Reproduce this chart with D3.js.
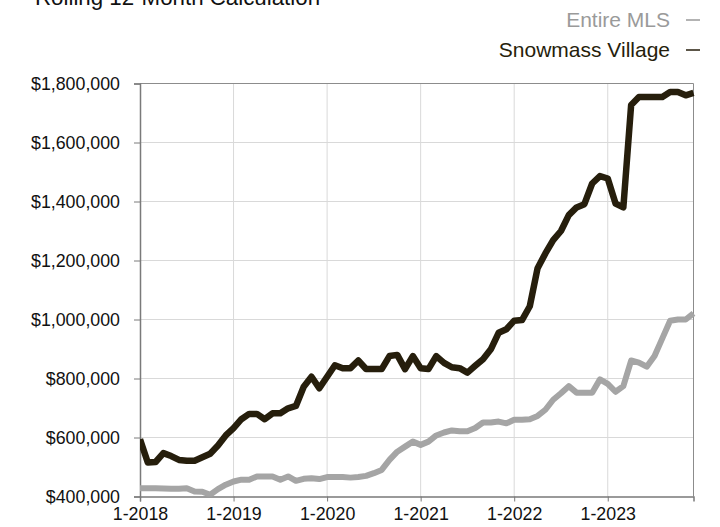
<!DOCTYPE html>
<html>
<head>
<meta charset="utf-8">
<script src="https://cdn.jsdelivr.net/npm/d3@7"></script>
<style>
  html, body { margin: 0; padding: 0; background: #fff; }
  svg { display: block; font-family: "Liberation Sans", Arial, Helvetica, sans-serif; }
</style>
</head>
<body>
<svg id="chart" width="720" height="527"></svg>
<script>
// Monthly rolling 12-month median sales price, Jan 2018 – Dec 2023
const yearTicks = ["1-2018", "1-2019", "1-2020", "1-2021", "1-2022", "1-2023"];
const yTickValues = [400000, 600000, 800000, 1000000, 1200000, 1400000, 1600000, 1800000];

const snowmassVillage = [
  594000, 515000, 517000, 547000, 537000, 524000, 521000, 521000, 533000, 545000, 573000, 607000,
  632000, 662000, 680000, 680000, 662000, 682000, 682000, 699000, 707000, 772000, 806000, 767000,
  806000, 845000, 835000, 835000, 861000, 832000, 832000, 832000, 876000, 880000, 832000, 876000,
  835000, 832000, 876000, 853000, 838000, 835000, 820000, 843000, 865000, 899000, 955000, 967000,
  996000, 998000, 1045000, 1174000, 1224000, 1269000, 1300000, 1354000, 1380000, 1391000, 1461000, 1486000,
  1478000, 1393000, 1380000, 1727000, 1754000, 1754000, 1754000, 1754000, 1771000, 1771000, 1760000, 1768000
];

const entireMLS = [
  428000, 428000, 428000, 427000, 426000, 426000, 428000, 417000, 416000, 406000, 425000, 440000,
  451000, 457000, 457000, 468000, 468000, 468000, 457000, 468000, 453000, 460000, 462000, 459000,
  466000, 466000, 466000, 464000, 466000, 470000, 479000, 490000, 524000, 552000, 569000, 586000,
  575000, 586000, 607000, 617000, 624000, 621000, 621000, 632000, 651000, 651000, 654000, 648000,
  660000, 660000, 662000, 673000, 694000, 728000, 750000, 774000, 752000, 752000, 752000, 797000,
  782000, 755000, 774000, 861000, 854000, 840000, 876000, 936000, 996000, 1000000, 1000000, 1021000
];

const seriesNames = ["Entire MLS", "Snowmass Village"];
const seriesColors = ["#a5a5a5", "#261e0c"];

const svg = d3.select("#chart");
const margin = { left: 140, top: 83.5, right: 26.5, bottom: 30.5 };
const W = 720, H = 527;
const innerW = W - margin.left - margin.right;
const innerH = H - margin.top - margin.bottom;

const x = d3.scaleLinear().domain([0, snowmassVillage.length - 1]).range([margin.left, margin.left + innerW]);
const y = d3.scaleLinear().domain([400000, 1800000]).range([margin.top + innerH, margin.top]);

// Title
svg.append("text")
  .attr("x", 35).attr("y", 5)
  .attr("font-size", 22.3)
  .attr("fill", "#111")
  .text("Rolling 12-Month Calculation");

// Legend (right aligned, series dash after the label)
const legend = svg.append("g");
seriesNames.forEach((name, i) => {
  const ly = 27 + i * 30;
  legend.append("text")
    .attr("x", 670).attr("y", ly)
    .attr("text-anchor", "end")
    .attr("font-size", 21)
    .attr("fill", i === 0 ? "#9a9a9a" : "#261e0c")
    .text(name);
  legend.append("line")
    .attr("x1", 686).attr("x2", 700)
    .attr("y1", ly - 7).attr("y2", ly - 7)
    .attr("stroke", i === 0 ? "#9a9a9a" : "#261e0c")
    .attr("stroke-width", 1.5);
});

// Grid lines
const yearIdx = yearTicks.map((_, i) => i * 12);
svg.append("g").selectAll("line.v")
  .data(yearIdx.slice(1))
  .join("line")
  .attr("x1", d => x(d)).attr("x2", d => x(d))
  .attr("y1", margin.top).attr("y2", margin.top + innerH)
  .attr("stroke", "#d9d9d9").attr("stroke-width", 1);
svg.append("g").selectAll("line.h")
  .data(yTickValues.slice(1, -1))
  .join("line")
  .attr("x1", margin.left).attr("x2", margin.left + innerW)
  .attr("y1", d => y(d)).attr("y2", d => y(d))
  .attr("stroke", "#d9d9d9").attr("stroke-width", 1);

// Frame (top and right)
svg.append("path")
  .attr("d", `M${margin.left},${margin.top}H${margin.left + innerW}V${margin.top + innerH}`)
  .attr("fill", "none").attr("stroke", "#8c8c8c").attr("stroke-width", 1);

// Axes
const fmt = d => "$" + d3.format(",")(d);
const yAxis = svg.append("g")
  .attr("transform", `translate(${margin.left},0)`)
  .call(d3.axisLeft(y).tickValues(yTickValues).tickFormat(fmt).tickSize(6).tickPadding(14));
const xAxis = svg.append("g")
  .attr("transform", `translate(0,${margin.top + innerH})`)
  .call(d3.axisBottom(x).tickValues(yearIdx).tickFormat((d, i) => yearTicks[i]).tickSize(5).tickPadding(6));

[yAxis, xAxis].forEach(g => {
  g.select(".domain").attr("stroke", "#7a7a7a").attr("stroke-width", 1.5);
  g.selectAll(".tick line").attr("stroke", "#7a7a7a");
  g.selectAll(".tick text").attr("font-size", 17.8).attr("fill", "#111")
    .attr("font-family", "'Liberation Sans', Arial, Helvetica, sans-serif");
});

// Series lines
const line = d3.line().x((d, i) => x(i)).y(d => y(d)).curve(d3.curveLinear);
svg.append("clipPath").attr("id", "plotclip")
  .append("rect").attr("x", margin.left).attr("y", margin.top - 6).attr("width", innerW + 4).attr("height", innerH + 6);

const plot = svg.append("g").attr("clip-path", "url(#plotclip)");
[entireMLS, snowmassVillage].forEach((series, i) => {
  plot.append("path")
    .datum(series)
    .attr("d", line)
    .attr("fill", "none")
    .attr("stroke", seriesColors[i])
    .attr("stroke-width", i === 0 ? 6 : 6.5)
    .attr("stroke-linejoin", "round")
    .attr("stroke-linecap", "butt");
});
</script>
</body>
</html>
